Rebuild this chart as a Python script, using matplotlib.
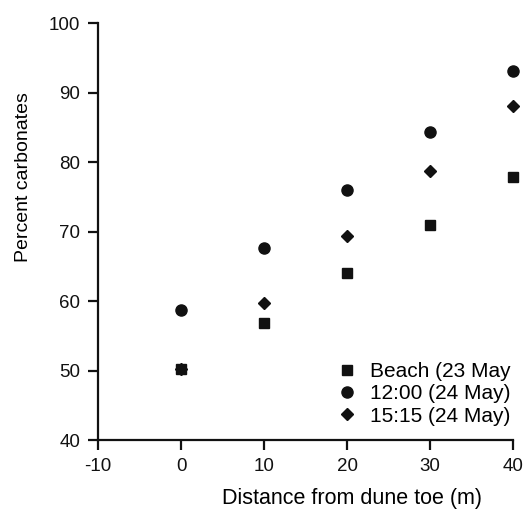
import matplotlib.pyplot as plt

plt.rcParams['font.family'] = ['Liberation Sans', 'DejaVu Sans']
plt.rcParams['axes.unicode_minus'] = False

distance = [0, 10, 20, 30, 40]
beach = [50.3, 56.9, 64.1, 70.9, 77.9]
noon = [58.7, 67.6, 76.0, 84.4, 93.1]
afternoon = [50.3, 59.8, 69.4, 78.7, 88.1]

fig = plt.figure(figsize=(5.25, 5.16), dpi=100)
ax = fig.add_axes([0.187, 0.147, 0.79, 0.808])

ax.plot(distance, beach, 's', color='#111111', markersize=7, clip_on=False, label='Beach (23 May')
ax.plot(distance, noon, 'o', color='#111111', markersize=8, clip_on=False, label='12:00 (24 May)')
ax.plot(distance, afternoon, 'D', color='#111111', markersize=6, clip_on=False, label='15:15 (24 May)')

ax.set_xlim(-10, 40)
ax.set_ylim(40, 100)
ax.set_xticks([-10, 0, 10, 20, 30, 40])
ax.set_yticks([40, 50, 60, 70, 80, 90, 100])
for s in ['top', 'right']:
    ax.spines[s].set_visible(False)
for s in ['left', 'bottom']:
    ax.spines[s].set_linewidth(1.6)
    ax.spines[s].set_color('#111111')
ax.tick_params(direction='out', length=7, width=1.6, labelsize=13.5, colors='#111111', pad=6)

ax.set_xlabel('Distance from dune toe (m)', fontsize=15.5)
ax.set_ylabel('Percent carbonates', fontsize=14)
ax.xaxis.set_label_coords(0.612, -0.115)
ax.yaxis.set_label_coords(-0.16, 0.63)

ax.legend(loc='lower right', frameon=False, fontsize=15, handletextpad=0.6,
          labelspacing=0.15, borderaxespad=0, borderpad=0, handlelength=1.0,
          bbox_to_anchor=(0.995, 0.035))

fig.savefig('out.png', dpi=100)
